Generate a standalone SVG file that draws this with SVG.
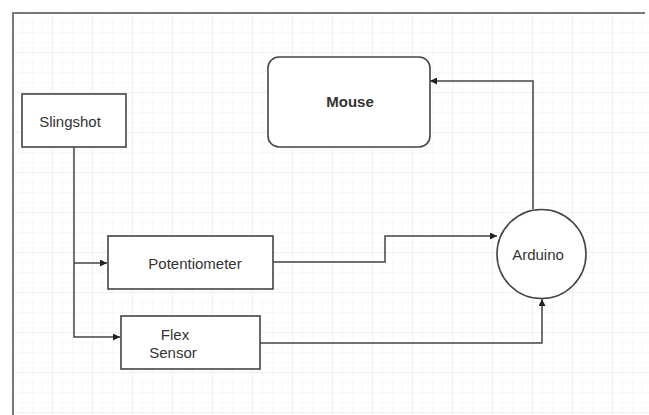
<svg xmlns="http://www.w3.org/2000/svg" width="649" height="415" viewBox="0 0 649 415">
  <defs>
    <pattern id="minor" width="10" height="10" patternUnits="userSpaceOnUse" x="13" y="13">
      <path d="M10 0V10M0 10H10" fill="none" stroke="#f3f3f3" stroke-width="1"/>
    </pattern>
    <pattern id="major" width="40" height="40" patternUnits="userSpaceOnUse" x="13" y="13">
      <path d="M40 0V40M0 40H40" fill="none" stroke="#e8e8e8" stroke-width="1"/>
    </pattern>
    <marker id="arrow" viewBox="0 0 10 10" refX="10" refY="5" markerWidth="7" markerHeight="7" markerUnits="userSpaceOnUse" orient="auto">
      <path d="M0 0L10 5L0 10Z" fill="#222"/>
    </marker>
  </defs>
  <style>
    .box { fill: #ffffff; stroke: #444; stroke-width: 1.6; }
    .lbl { font-family: "Liberation Sans", Arial, sans-serif; font-size: 15px; fill: #333; text-anchor: middle; dominant-baseline: central; }
    .conn { fill: none; stroke: #444; stroke-width: 1.5; marker-end: url(#arrow); }
    .frame { fill: none; stroke: #777; stroke-width: 2; }
  </style>
  <rect width="649" height="415" fill="#ffffff"/>
  <rect x="13" y="13" width="636" height="402" fill="url(#minor)"/>
  <rect x="13" y="13" width="636" height="402" fill="url(#major)"/>
  <path class="frame" d="M13 415V13H645"/>

  <g id="connectors">
    <path class="conn" d="M74 147V337H120"/>
    <path class="conn" d="M74 263H107"/>
    <path class="conn" d="M273 262H385V236H497"/>
    <path class="conn" d="M260 343H542V299"/>
    <path class="conn" d="M533 209V81H430"/>
  </g>

  <g id="slingshot">
    <rect class="box" x="22" y="94" width="104" height="53"/>
    <text class="lbl" x="70" y="121">Slingshot</text>
  </g>
  <g id="mouse">
    <rect class="box" x="268" y="57" width="162" height="90" rx="11" ry="11"/>
    <text class="lbl" x="350" y="101" font-weight="bold" style="font-weight:bold">Mouse</text>
  </g>
  <g id="potentiometer">
    <rect class="box" x="108" y="236" width="165" height="53"/>
    <text class="lbl" x="195" y="263">Potentiometer</text>
  </g>
  <g id="flex-sensor">
    <rect class="box" x="121" y="316" width="139" height="53"/>
    <text class="lbl" x="175" y="334">Flex</text>
    <text class="lbl" x="173" y="352">Sensor</text>
  </g>
  <g id="arduino">
    <circle class="box" cx="541.5" cy="254" r="44.5"/>
    <text class="lbl" x="538" y="254">Arduino</text>
  </g>
</svg>
